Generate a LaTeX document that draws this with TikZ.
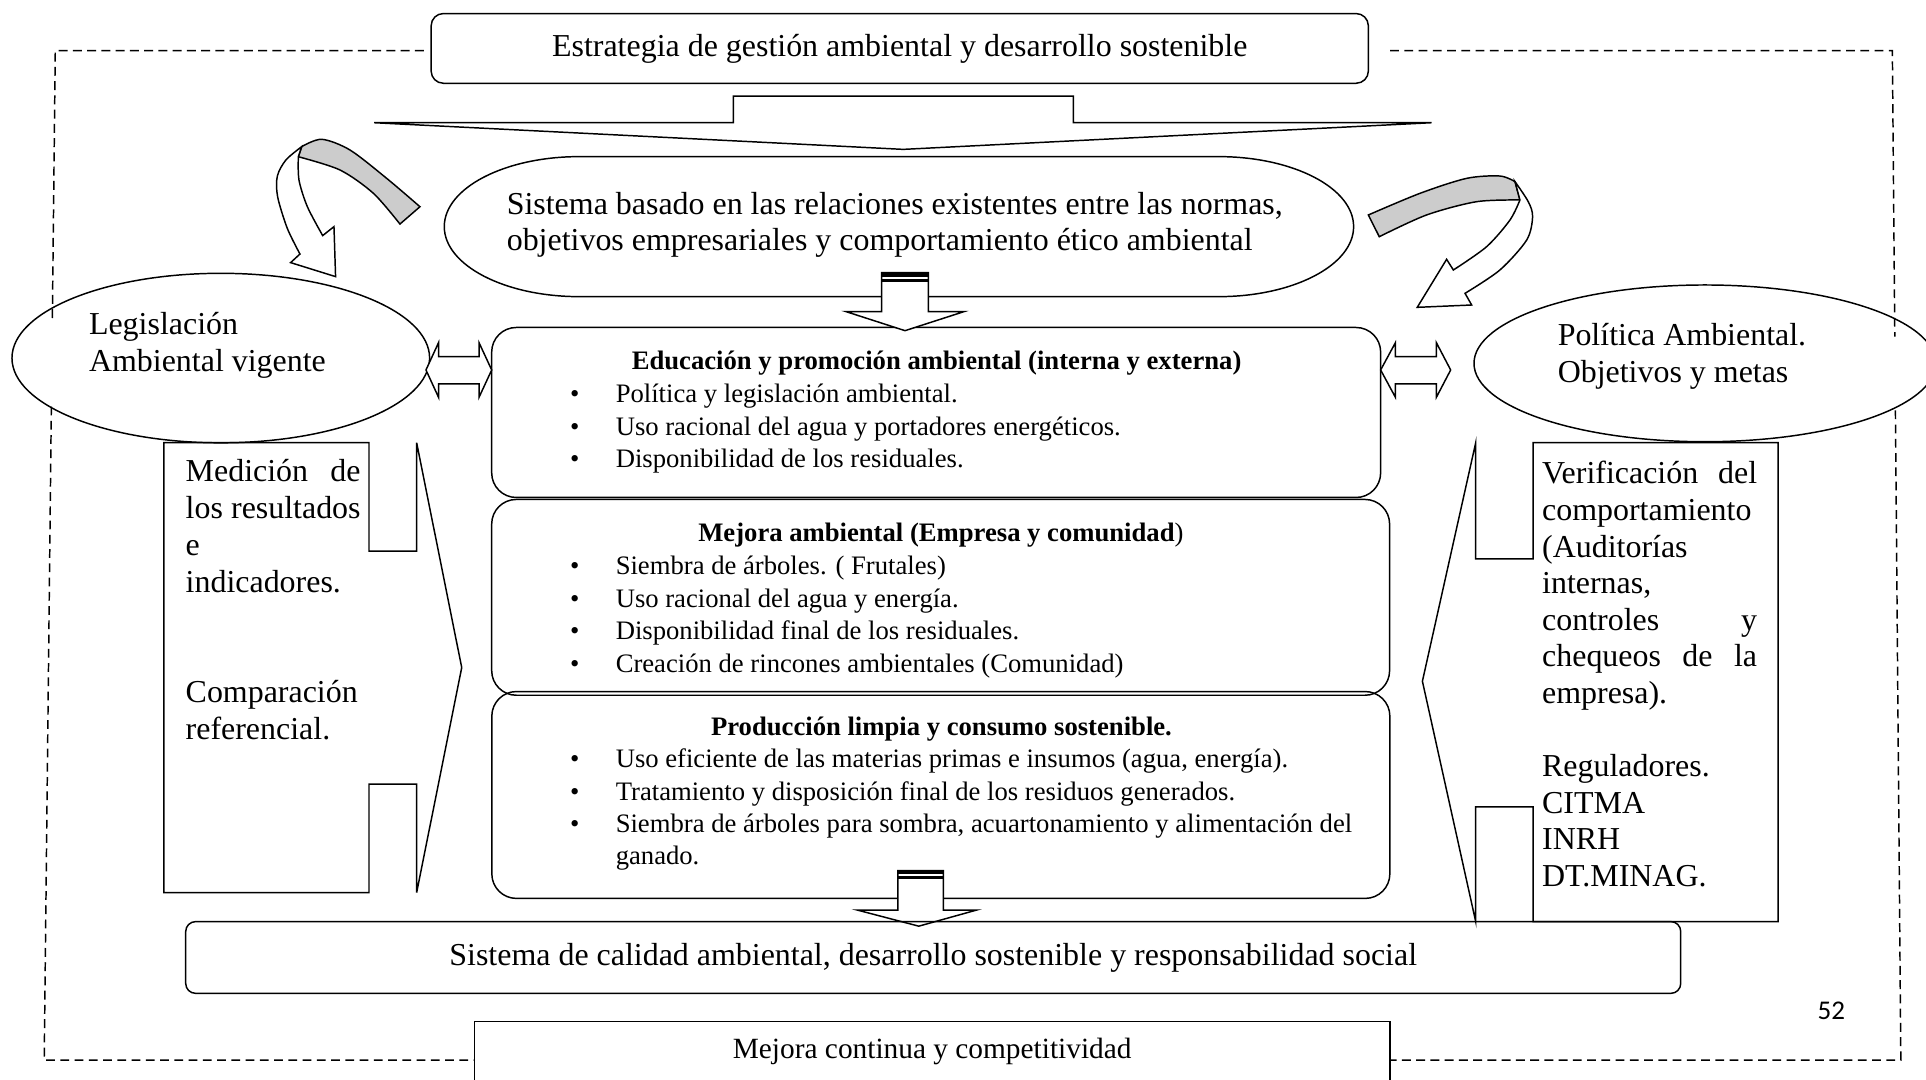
\documentclass[tikz,border=0pt]{standalone}
\usepackage{fontspec}
\setmainfont{Liberation Serif}
\newfontfamily\pagefont{Carlito}
\usetikzlibrary{shapes.geometric}
\newcommand{\bul}{\makebox[18.6pt][l]{\textbullet}}
\begin{document}
\begin{tikzpicture}[x=0.5pt,y=-0.5pt,line width=0.6pt,
  frame/.style={dash pattern=on 3.6pt off 2.2pt},
  blockarrow/.style={draw,fill=white,line join=miter},
  oval/.style={draw,ellipse,inner sep=0pt},
  roundbox/.style={draw,rounded corners=10pt,inner sep=0pt},
  bigtxt/.style={font=\fontsize{13}{15}\selectfont,align=flush left,inner sep=0pt,anchor=base west},
  listtxt/.style={font=\fontsize{10.85}{13.2}\selectfont,align=flush left,inner sep=0pt,anchor=base west,text width=345pt},
  titletxt/.style={font=\fontsize{10.85}{13.2}\selectfont\bfseries,inner sep=0pt,anchor=base}]
\useasboundingbox (0,0) rectangle (1568,879);
\draw[frame] (345,41.3) -- (45,41.3) -- (42.6,262);
\draw[frame] (41.8,331) -- (36,863) -- (386.3,863);
\draw[frame] (1131.7,41.3) -- (1540.6,41.3) -- (1542.6,274);
\draw[frame] (1543.1,334) -- (1547.5,863) -- (1131.5,863);
\node[roundbox,rounded corners=5pt,minimum width=381.5pt,minimum height=28.4pt,font=\fontsize{13}{15}\selectfont] (strat) at (732.5,39.4) {Estrategia de gestión ambiental y desarrollo sostenible};
\draw[blockarrow] (304.6,99.9) -- (597,99.9) -- (597,78.2) -- (873.8,78.2) -- (873.8,99.9) -- (1165.5,99.9) -- (735.4,121.6) -- cycle;
\draw (471.7,127.5) -- (992,127.5) arc[start angle=-90,end angle=90,x radius=110,y radius=57] -- (471.7,241.5) arc[start angle=90,end angle=270,x radius=110,y radius=57] -- cycle;
\node[bigtxt,font=\fontsize{13}{14.5}\selectfont,text width=340pt] (sisTxt) at (412,175) {Sistema basado en las relaciones existentes entre las normas,\\objetivos empresariales y comportamiento ético ambiental};
\draw[fill=black!20] plot[smooth] coordinates {(245.6,119.4) (261.9,113.4) (284.9,122.1) (314.8,145.2) (341.9,168.3)} -- (325.6,182.4) -- plot[smooth] coordinates {(325.6,182.4) (304,157.4) (276.8,138.4) (242.9,127.6)} -- cycle;
\draw[fill=white] plot[smooth] coordinates {(245.6,119.4) (232.8,130.2) (225.8,143.3) (226,160.1) (233.9,185.9) (244.2,206.8)} -- (236.6,213.8) -- (273.2,225.2) -- (271.9,184.5) -- (262.7,191.8) -- plot[smooth] coordinates {(262.7,191.8) (250.2,168.2) (243.4,146.5) (242.9,127.6)} -- cycle;
\draw[fill=black!20] plot[smooth] coordinates {(1114,175) (1156,157.4) (1194,145.2) (1221.1,143.3) (1233.4,147.9)} -- (1237.4,162.8) -- plot[smooth] coordinates {(1237.4,162.8) (1202.1,164.2) (1161.4,175) (1122.9,192.7)} -- cycle;
\draw[fill=white] plot[smooth] coordinates {(1233.4,147.9) (1244.2,164.2) (1247.7,176.4) (1242.9,195.4) (1221.1,219.8) (1192.7,238.8)} -- (1198.1,248.3) -- (1153.8,250.2) -- (1177.7,211.1) -- (1183.2,219.8) -- plot[smooth] coordinates {(1183.2,219.8) (1210.3,200.8) (1229.3,179.1) (1237.4,162.8)} -- cycle;
\node[oval,minimum width=170pt,minimum height=69pt] (leg) at (179.75,291.5) {};
\node[bigtxt,text width=110pt] (legTxt) at (71.9,272.7) {Legislación\\Ambiental vigente};
\node[oval,minimum width=188pt,minimum height=63.8pt] (pol) at (1388,295.8) {};
\node[bigtxt,text width=120pt] (polTxt) at (1267.6,281) {Política Ambiental.\\Objetivos y metas};
\node[roundbox,minimum width=361.85pt,minimum height=69.2pt] (edu) at (762.15,335.8) {};
\node[roundbox,minimum width=365.5pt,minimum height=79.7pt] (mej) at (765.8,486.3) {};
\node[roundbox,minimum width=365.55pt,minimum height=84.2pt] (prod) at (765.95,647.2) {};
\node[titletxt] (eduTit) at (762.5,301) {Educación y promoción ambiental (interna y externa)};
\node[listtxt] (eduList) at (463.5,328) {\bul Política y legislación ambiental.\\\bul Uso racional del agua y portadores energéticos.\\\bul Disponibilidad de los residuales.};
\node[titletxt] (mejTit) at (766,441) {Mejora ambiental (Empresa y comunidad\textmd{)}};
\node[listtxt] (mejList) at (463.5,468) {\bul Siembra de árboles. ( Frutales)\\\bul Uso racional del agua y energía.\\\bul Disponibilidad final de los residuales.\\\bul Creación de rincones ambientales (Comunidad)};
\node[titletxt] (prodTit) at (766.5,599) {Producción limpia y consumo sostenible.};
\node[listtxt] (prodList) at (463.5,625) {\bul Uso eficiente de las materias primas e insumos (agua, energía).\\\bul Tratamiento y disposición final de los residuos generados.\\\bul Siembra de árboles para sombra, acuartonamiento y alimentación del\\\makebox[18.6pt]{}ganado.};
\draw[blockarrow] (717.8,222) -- (717.8,253.7) -- (688.8,253.7) -- (736.8,269.2) -- (784.8,253.7) -- (755.8,253.7) -- (755.8,222) -- cycle;
\fill (717.8,222) rectangle (755.8,225.8);
\fill (717.8,227.4) rectangle (755.8,229.6);
\draw[blockarrow] (346.8,301.2) -- (357,279) -- (357,290.4) -- (390,290.4) -- (390,279) -- (400.3,301.2) -- (390,323.4) -- (390,312.6) -- (357,312.6) -- (357,323.4) -- cycle;
\draw[blockarrow] (1124,301.2) -- (1136,279) -- (1136,290.4) -- (1169.4,290.4) -- (1169.4,279) -- (1181,301.2) -- (1169.4,323.4) -- (1169.4,312.6) -- (1136,312.6) -- (1136,323.4) -- cycle;
\draw (300.4,448.6) -- (300.4,360.4) -- (133.5,360.4) -- (133.5,726.7) -- (300.4,726.7) -- (300.4,638.3) -- (339.2,638.3) -- (339.2,726.7) -- (375.9,543.5) -- (339.2,360.4) -- (339.2,448.6) -- cycle;
\node[bigtxt,text width=71.2pt] (medTxt) at (150.6,392.1) {Medición\hfill de\\los\hfill resultados\\e\\indicadores.\\[30pt]Comparación\\referencial.};
\draw (1248.2,455) -- (1248.2,360.4) -- (1447.5,360.4) -- (1447.5,750.3) -- (1248.2,750.3) -- (1248.2,656.8) -- (1201.4,656.8) -- (1201.4,750.3) -- (1158,554.6) -- (1201.4,360.4) -- (1201.4,455) -- cycle;
\node[bigtxt,font=\fontsize{13}{14.9}\selectfont,text width=87.5pt] (verTxt) at (1254.9,393.9) {Verificación\hfill del\\comportamiento\\(Auditorías\\internas,\\controles\hfill y\\chequeos\hfill de\hfill la\\empresa).\\[14.9pt]Reguladores.\\CITMA\\INRH\\DT.MINAG.};
\draw[blockarrow] (731,708.8) -- (731,740.9) -- (698,740.9) -- (748,754) -- (795,740.9) -- (768,740.9) -- (768,708.8) -- cycle;
\fill (731,708.8) rectangle (768,711.8);
\fill (731,713.2) rectangle (768,715.4);
\node[roundbox,rounded corners=4pt,minimum width=608.55pt,minimum height=29.2pt,font=\fontsize{13}{15}\selectfont] (calidad) at (759.75,779.5) {Sistema de calidad ambiental, desarrollo sostenible y responsabilidad social};
\draw (386.3,885) |- (1131.5,831.8) -- (1131.5,885);
\node[font=\fontsize{11.95}{14}\selectfont,inner sep=0pt] (mejCont) at (758.9,856) {Mejora continua y competitividad};
\node[font=\pagefont\fontsize{11}{13}\selectfont,inner sep=0pt] (pnum) at (1491,823) {52};
\end{tikzpicture}
\end{document}
